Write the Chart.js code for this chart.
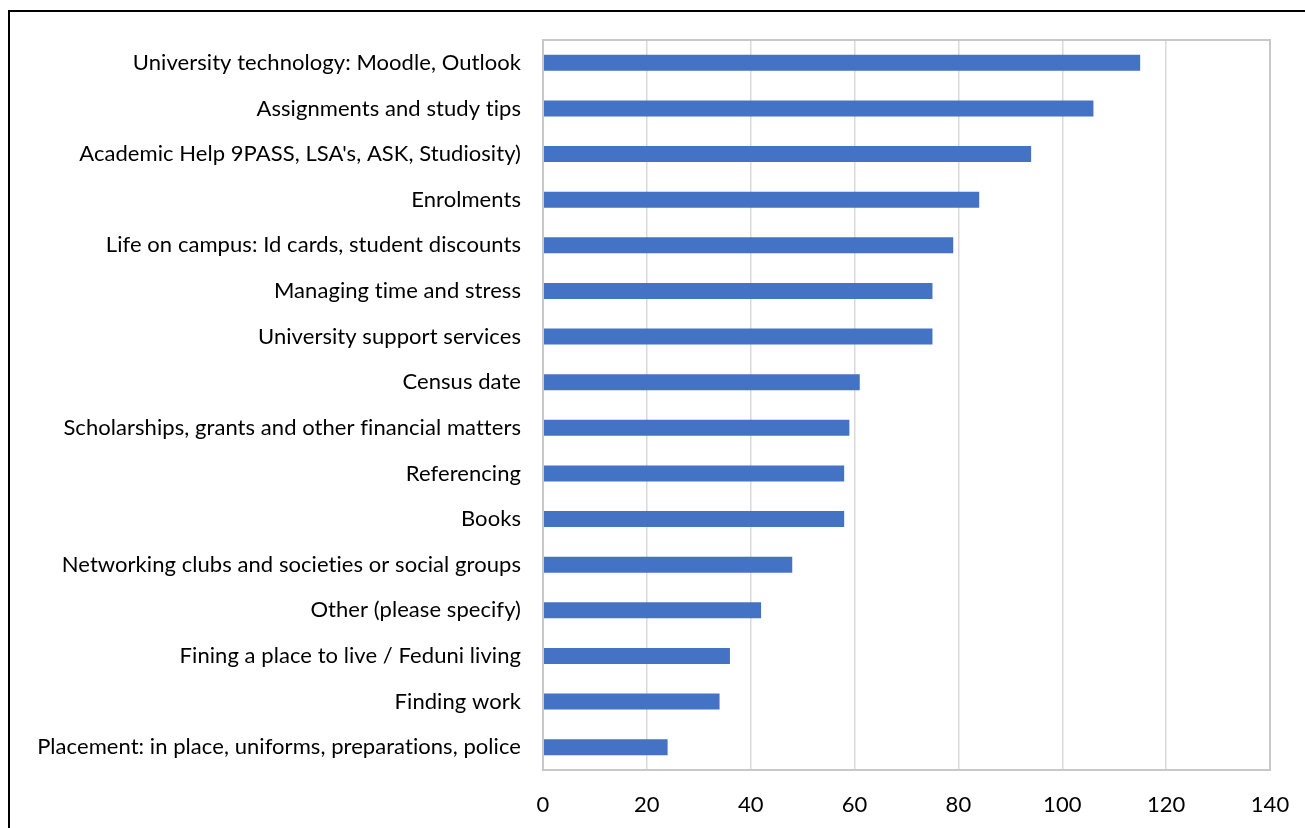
<!DOCTYPE html>
<html>
<head>
<meta charset="utf-8">
<script src="https://cdn.jsdelivr.net/npm/chart.js@4.4.1/dist/chart.umd.min.js"></script>
<style>
  html, body { margin: 0; padding: 0; background: #fff; overflow: hidden; }
  #frame {
    position: absolute; left: 8px; top: 10px;
    width: 1400px; height: 900px;
    border-left: 2px solid #000; border-top: 2px solid #000;
  }
  #wrap { position: absolute; left: 0; top: 0; width: 1305px; height: 828px; }
</style>
</head>
<body>
<div id="frame"></div>
<div id="wrap"><canvas id="grafico" width="1305" height="828"></canvas></div>
<script>
const categorias = [
  'University technology: Moodle, Outlook',
  'Assignments and study tips',
  "Academic Help 9PASS, LSA's, ASK, Studiosity)",
  'Enrolments',
  'Life on campus: Id cards, student discounts',
  'Managing time and stress',
  'University support services',
  'Census date',
  'Scholarships, grants and other financial matters',
  'Referencing',
  'Books',
  'Networking clubs and societies or social groups',
  'Other (please specify)',
  'Fining a place to live / Feduni living',
  'Finding work',
  'Placement: in place, uniforms, preparations, police'
];
const respuestas = [115, 106, 94, 84, 79, 75, 75, 61, 59, 58, 58, 48, 42, 36, 34, 24];
const ejeMin = 0;
const ejeMax = 140;
const ejePaso = 20;

const fuente = { family: "Lato, sans-serif", size: 22 };

// un poco de espaciado para que no se formen ligaduras (ti, fi)
const sinLigaduras = {
  id: 'sinLigaduras',
  beforeDraw(chart) { chart.ctx.letterSpacing = '0.06px'; }
};

// marco gris alrededor del area del grafico
const marcoArea = {
  id: 'marcoArea',
  afterDraw(chart) {
    const { ctx, chartArea: a } = chart;
    ctx.save();
    ctx.strokeStyle = '#c8c8c8';
    ctx.lineWidth = 2;
    ctx.strokeRect(a.left, a.top, a.right - a.left, a.bottom - a.top);
    ctx.restore();
  }
};

new Chart(document.getElementById('grafico'), {
  type: 'bar',
  data: {
    labels: categorias,
    datasets: [{
      data: respuestas,
      backgroundColor: '#4472C4',
      borderWidth: 0,
      barPercentage: 0.35,
      categoryPercentage: 1
    }]
  },
  options: {
    indexAxis: 'y',
    responsive: false,
    animation: false,
    layout: { padding: { top: 40, right: 35, left: 0, bottom: 0 } },
    plugins: { legend: { display: false }, tooltip: { enabled: false } },
    scales: {
      x: {
        min: ejeMin,
        max: ejeMax,
        ticks: { stepSize: ejePaso, color: '#000', font: fuente, padding: 22 },
        grid: { color: '#d9d9d9', lineWidth: 1.5, drawTicks: false },
        border: { display: false },
        afterFit(scale) {
          scale.height = 58;
          scale.paddingLeft = 0;
          scale.paddingRight = 0;
        }
      },
      y: {
        ticks: { color: '#000', font: fuente, padding: 22, autoSkip: false },
        grid: { display: false, drawTicks: false },
        border: { display: false },
        afterFit(scale) { scale.width = 543; }
      }
    }
  },
  plugins: [sinLigaduras, marcoArea]
});
</script>
</body>
</html>
